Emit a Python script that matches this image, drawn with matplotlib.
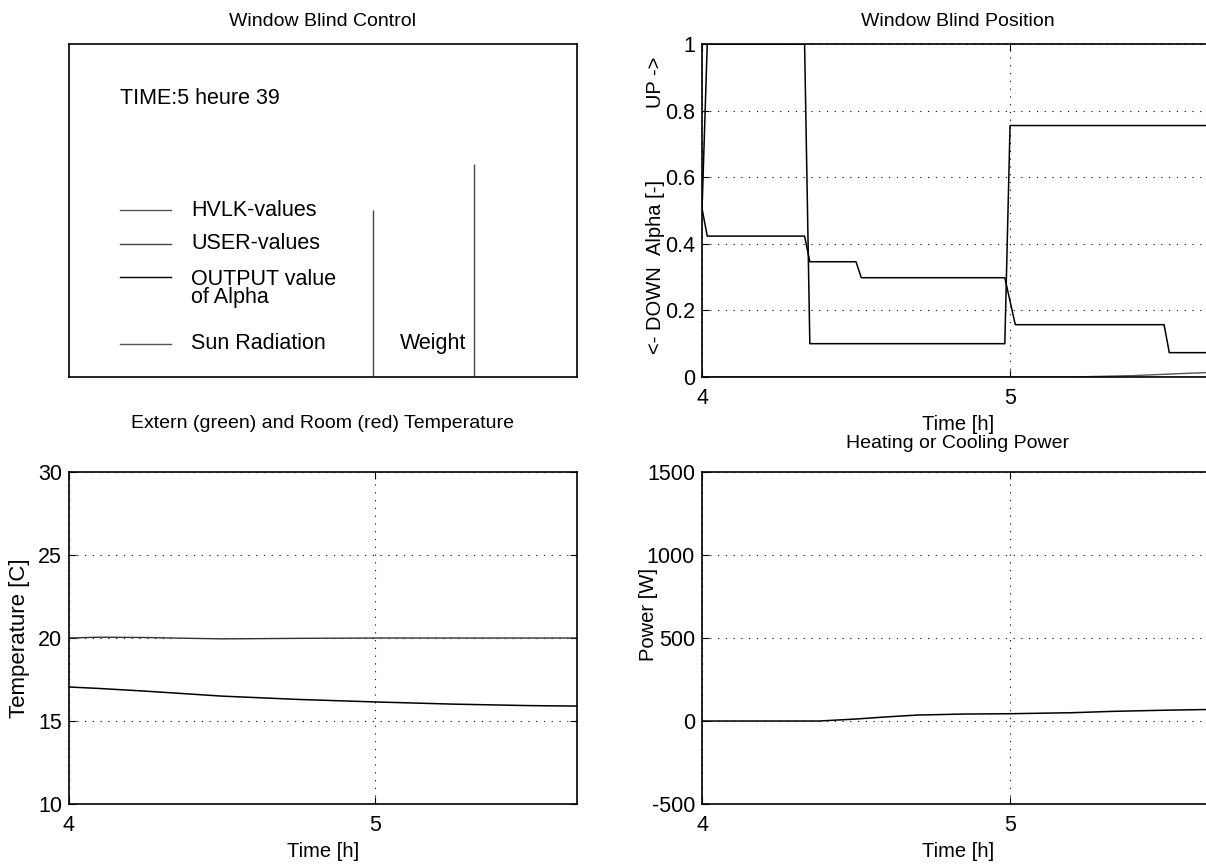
# -*- coding: utf-8 -*-

import numpy as np
import matplotlib
matplotlib.use("Agg")
import matplotlib.pyplot as plt

plt.rcParams['font.family'] = ['Liberation Sans', 'DejaVu Sans']
plt.rcParams['font.size'] = 15.5
plt.rcParams['axes.unicode_minus'] = False

# ---- data ----
time_label = "TIME:5 heure 39"
legend_labels = ["HVLK-values", "USER-values", "OUTPUT value\nof Alpha", "Sun Radiation"]
weights = [0.5, 0.64]          # heights of the two weight bars
weight_pos = [0.598, 0.797]    # where the two bars stand (axes fraction)

t_user = [4.0, 4.017, 4.333, 4.35, 4.983, 5.0, 5.66]
alpha_user = [0.5, 1.0, 1.0, 0.1, 0.1, 0.755, 0.755]

t_out = [4.0, 4.017, 4.333, 4.35, 4.5, 4.517, 4.983, 5.017, 5.5, 5.517, 5.66]
alpha_out = [0.506, 0.423, 0.423, 0.346, 0.346, 0.298, 0.298, 0.157, 0.157, 0.073, 0.073]

t_sun = [4.0, 5.2, 5.4, 5.55, 5.66]
sun = [0.0, 0.0, 0.004, 0.01, 0.014]

t_temp = [4.0, 4.1, 4.25, 4.4, 4.5, 4.6, 4.75, 5.0, 5.25, 5.5, 5.66]
t_room = [20.0, 20.05, 20.03, 19.98, 19.95, 19.96, 19.98, 20.0, 20.0, 20.0, 20.0]
t_ext = [17.05, 16.96, 16.8, 16.62, 16.5, 16.42, 16.3, 16.15, 16.02, 15.93, 15.9]

t_pow = [4.0, 4.2, 4.38, 4.5, 4.6, 4.7, 4.85, 5.0, 5.2, 5.33, 5.5, 5.66]
power = [0, 0, 0, 12, 25, 36, 42, 44, 50, 58, 65, 70]

xmax = 5.66
title_fs = 14
label_fs = 14.5
grid_style = dict(color='black', linestyle=(0, (1, 6)), linewidth=0.8)


def style_axes(ax):
    ax.tick_params(direction='in', length=5, width=0.8, top=True, right=True,
                   labelsize=15.5)
    ax.tick_params(axis='x', pad=8)
    ax.tick_params(axis='y', pad=5)
    for s in ax.spines.values():
        s.set_linewidth(1.2)
    ax.grid(True, **grid_style)
    ax.set_axisbelow(True)


fig = plt.figure(figsize=(12.06, 8.65), dpi=100)

# ---- top left: control panel ----
ax1 = fig.add_axes([0.0572, 0.5642, 0.4212, 0.385])
ax1.set_xlim(0, 1)
ax1.set_ylim(0, 1)
ax1.set_xticks([])
ax1.set_yticks([])
for s in ax1.spines.values():
    s.set_linewidth(1.2)
ax1.text(0.5, 1.066, "Window Blind Control", transform=ax1.transAxes,
         ha='center', va='center', fontsize=title_fs)
ax1.text(0.10, 0.835, time_label, ha='left', va='center')
leg_y = [0.5, 0.4, 0.3, 0.1]
leg_col = ['#555555', '#444444', 'black', '#555555']
for y, lab, c in zip(leg_y, legend_labels, leg_col):
    ax1.plot([0.10, 0.20], [y, y], color=c, linewidth=1.0)
    if "\n" in lab:
        ax1.text(0.24, y + 0.025, lab, ha='left', va='top', linespacing=0.8)
    else:
        ax1.text(0.24, y, lab, ha='left', va='center')
ax1.vlines(weight_pos, 0, weights, color='#444444', linewidth=1.0)
ax1.text(0.652, 0.1, "Weight", ha='left', va='center')

# ---- top right: blind position ----
ax2 = fig.add_axes([0.5821, 0.5642, 0.424, 0.385])
ax2.plot(t_sun, sun, color='#555555', linewidth=1.0)
ax2.plot([4.0, xmax], [0, 0], color='#555555', linewidth=1.0)
ax2.plot(t_user, alpha_user, color='black', linewidth=1.1)
ax2.plot(t_out, alpha_out, color='black', linewidth=1.1)
ax2.set_xlim(4, xmax)
ax2.set_ylim(0, 1)
ax2.set_xticks([4, 5])
ax2.set_yticks([0, 0.2, 0.4, 0.6, 0.8, 1])
ax2.set_yticklabels(["0", "0.2", "0.4", "0.6", "0.8", "1"])
style_axes(ax2)
ax2.set_xlabel("Time [h]", labelpad=4, fontsize=label_fs)
ax2.text(0.5, 1.066, "Window Blind Position", transform=ax2.transAxes,
         ha='center', va='center', fontsize=title_fs)
for y, lab in [(0.886, "UP ->"), (0.48, "Alpha [-]"), (0.2, "<- DOWN")]:
    ax2.text(-0.091, y, lab, transform=ax2.transAxes, rotation=90,
             ha='center', va='center', fontsize=label_fs)

# ---- bottom left: temperatures ----
ax3 = fig.add_axes([0.0572, 0.0705, 0.4212, 0.3838])
ax3.plot(t_temp, t_room, color='#333333', linewidth=1.0)
ax3.plot(t_temp, t_ext, color='black', linewidth=1.1)
ax3.set_xlim(4, xmax)
ax3.set_ylim(10, 30)
ax3.set_xticks([4, 5])
ax3.set_yticks([10, 15, 20, 25, 30])
style_axes(ax3)
ax3.set_xlabel("Time [h]", labelpad=4, fontsize=label_fs)
ax3.set_ylabel("Temperature [C]", fontsize=16)
ax3.yaxis.set_label_coords(-0.077, 0.5)
ax3.text(0.5, 1.1476, "Extern (green) and Room (red) Temperature",
         transform=ax3.transAxes, ha='center', va='center', fontsize=title_fs)

# ---- bottom right: power ----
ax4 = fig.add_axes([0.5821, 0.0705, 0.424, 0.3838])
ax4.plot(t_pow, power, color='black', linewidth=1.1)
ax4.set_xlim(4, xmax)
ax4.set_ylim(-500, 1500)
ax4.set_xticks([4, 5])
ax4.set_yticks([-500, 0, 500, 1000, 1500])
style_axes(ax4)
ax4.set_xlabel("Time [h]", labelpad=4, fontsize=label_fs)
ax4.set_ylabel("Power [W]", fontsize=label_fs)
ax4.yaxis.set_label_coords(-0.086, 0.57)
ax4.text(0.5, 1.087, "Heating or Cooling Power", transform=ax4.transAxes,
         ha='center', va='center', fontsize=title_fs)

fig.savefig("out.png", dpi=100)
